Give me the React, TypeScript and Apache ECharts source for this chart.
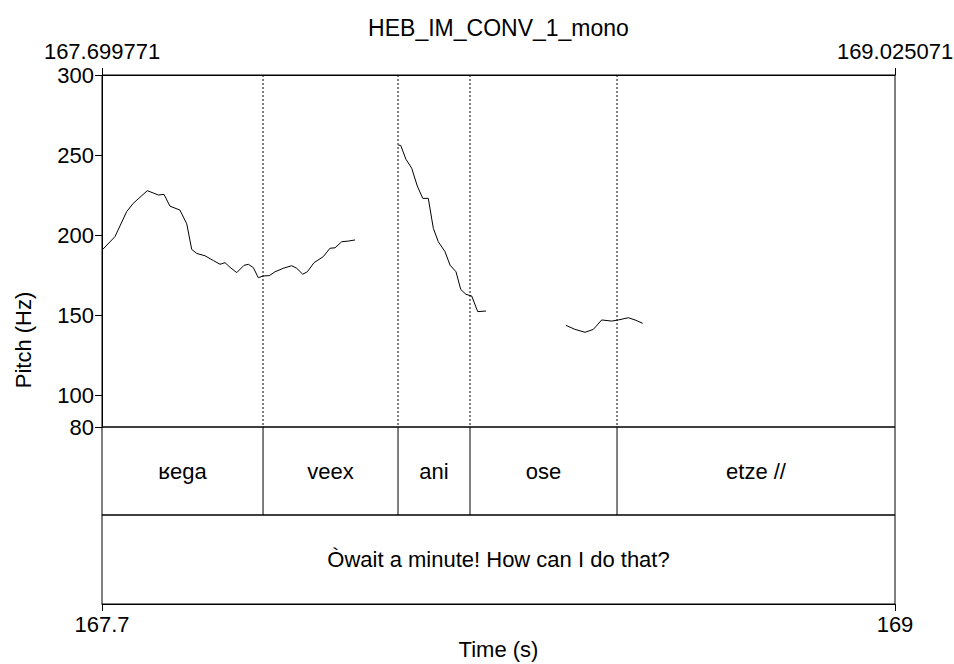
import React, { useEffect, useRef } from "react";
import * as echarts from "echarts";

const FONT = "'Liberation Sans', Arial, Helvetica, sans-serif";
const FS = 22;

const titleText = "HEB_IM_CONV_1_mono";
const xMin = 167.699771;
const xMax = 169.025071;
const topTickValues = [167.699771, 169.025071];
const bottomTickValues = [167.699771, 169.025071];
const bottomTickLabels = ["167.7", "169"];
const pitchTicks = [80, 100, 150, 200, 250, 300];

const seg1Times = [167.701, 167.7215, 167.741, 167.752, 167.7755, 167.794, 167.8034, 167.8134, 167.83, 167.8414, 167.8497, 167.858, 167.872, 167.886, 167.897, 167.9054, 167.9137, 167.925, 167.937, 167.9443, 167.9527, 167.961, 167.9694, 167.9794, 167.9889, 168.0028, 168.0168, 168.0252, 168.0352, 168.0429, 168.0541, 168.0696, 168.0808, 168.0892, 168.1004, 168.1114, 168.1226];
const seg1Pitch = [191, 199, 214.6, 219.8, 227.7, 225, 225.4, 218, 215.6, 207, 191, 188.5, 187, 184, 181.7, 182.7, 179.8, 176.5, 181, 181.7, 179.6, 173.3, 174.4, 174.6, 177, 179.2, 180.8, 179.2, 175.5, 177, 182.7, 186.5, 191.7, 192, 195.8, 196.2, 196.9];
const seg2Times = [168.195, 168.199, 168.2078, 168.2174, 168.2267, 168.2358, 168.2451, 168.2535, 168.2618, 168.273, 168.2814, 168.2914, 168.2993, 168.3081, 168.3176, 168.3277, 168.3415];
const seg2Pitch = [256.2, 256, 247.3, 241.7, 230.6, 222.9, 222.9, 204.2, 195.8, 189.6, 181.2, 177, 166, 162.9, 161.9, 152.1, 152.5];
const seg3Times = [168.4753, 168.4903, 168.507, 168.5209, 168.5349, 168.5516, 168.5626, 168.5794, 168.5906, 168.6034];
const seg3Pitch = [143.5, 141, 139.2, 141, 146.9, 146.2, 146.9, 148.3, 146.9, 144.8];

const tier1Bounds = [167.699771, 167.9689, 168.1945, 168.3148, 168.5605, 169.025071];
const tier1Labels = ["ʁega", "veex", "ani", "ose", "etze //"];
const tier2Bounds = [167.699771, 169.025071];
const tier2Labels = ["Òwait a minute! How can I do that?"];

const GL = 102, GW = 793;

export default function App() {
  const ref = useRef<HTMLDivElement>(null);
  useEffect(() => {
    if (!ref.current) return;
    const chart = echarts.init(ref.current, undefined, { renderer: "svg" });
    const zip = (t: number[], p: number[]) => t.map((v, i) => [v, p[i]]);
    const lineStyle = { color: "#000", width: 1 };
    const tierRender = (bounds: number[], labels: string[]) => (params: any, api: any) => {
      const i = api.value(2);
      const s = api.coord([api.value(0), 0.5]);
      const e = api.coord([api.value(1), 0.5]);
      const cs = params.coordSys;
      const children: any[] = [
        {
          type: "text",
          x: (s[0] + e[0]) / 2,
          y: cs.y + cs.height / 2,
          style: { text: labels[i], align: "center", verticalAlign: "middle", fill: "#000", fontSize: FS, fontFamily: FONT },
        },
      ];
      if (i < labels.length - 1) {
        children.push({
          type: "line",
          shape: { x1: e[0], y1: cs.y, x2: e[0], y2: cs.y + cs.height },
          style: { stroke: "#000", lineWidth: 1 },
        });
      }
      return { type: "group", children };
    };
    const boundaryRender = (params: any, api: any) => {
      const p = api.coord([api.value(0), 80]);
      const cs = params.coordSys;
      return {
        type: "line",
        shape: { x1: p[0], y1: cs.y, x2: p[0], y2: cs.y + cs.height },
        style: { stroke: "#000", lineWidth: 1, lineDash: [2, 2] },
      };
    };
    const tierData = (bounds: number[], labels: string[]) => labels.map((_, i) => [bounds[i], bounds[i + 1], i]);
    const hiddenY = (gi: number) => ({ type: "value", gridIndex: gi, min: 0, max: 1, show: false });
    const gridBase = {
      left: GL, width: GW, show: true, borderColor: "#000", borderWidth: 1, containLabel: false,
      outerBoundsMode: "none",
    };
    chart.setOption({
      animation: false,
      grid: [
        { ...gridBase, top: 75, height: 352 },
        { ...gridBase, top: 427, height: 88 },
        { ...gridBase, top: 515, height: 89 },
      ],
      graphic: [
        { type: "text", x: 498.5, y: 27.5, style: { text: titleText, align: "center", verticalAlign: "middle", fill: "#000", fontSize: 23, fontFamily: FONT } },
        { type: "text", x: 23, y: 340, rotation: Math.PI / 2, style: { text: "Pitch (Hz)", align: "center", verticalAlign: "middle", fill: "#000", fontSize: FS, fontFamily: FONT } },
      ],
      xAxis: [
        {
          type: "value", gridIndex: 0, min: xMin, max: xMax, position: "top",
          axisLine: { show: true, lineStyle: { color: "#000" } },
          axisTick: { show: true, length: 7, customValues: topTickValues, lineStyle: { color: "#000" } },
          axisLabel: { show: true, customValues: topTickValues, margin: 13, color: "#000", fontSize: FS, fontFamily: FONT, formatter: (v: number) => v.toFixed(6) },
          splitLine: { show: false },
        },
        { type: "value", gridIndex: 1, min: xMin, max: xMax, show: false },
        {
          type: "value", gridIndex: 2, min: xMin, max: xMax, position: "bottom",
          axisLine: { show: true, lineStyle: { color: "#000" } },
          axisTick: { show: true, length: 7, customValues: bottomTickValues, lineStyle: { color: "#000" } },
          axisLabel: { show: true, customValues: bottomTickValues, margin: 9, color: "#000", fontSize: FS, fontFamily: FONT, formatter: (v: number, idx: number) => bottomTickLabels[bottomTickValues.indexOf(v)] ?? bottomTickLabels[idx] },
          splitLine: { show: false },
          name: "Time (s)", nameLocation: "middle", nameGap: 34,
          nameTextStyle: { color: "#000", fontSize: FS, fontFamily: FONT },
        },
      ],
      yAxis: [
        {
          type: "value", gridIndex: 0, min: 80, max: 300,
          axisLine: { show: true, lineStyle: { color: "#000" } },
          axisTick: { show: true, length: 7, customValues: pitchTicks, lineStyle: { color: "#000" } },
          axisLabel: { show: true, customValues: pitchTicks, margin: 8, color: "#000", fontSize: FS, fontFamily: FONT },
          splitLine: { show: false },
        },
        hiddenY(1),
        hiddenY(2),
      ],
      series: [
        {
          type: "custom", xAxisIndex: 0, yAxisIndex: 0, silent: true,
          data: tier1Bounds.slice(1, -1).map((b) => [b, 80]),
          renderItem: boundaryRender,
        },
        { type: "line", xAxisIndex: 0, yAxisIndex: 0, data: zip(seg1Times, seg1Pitch), showSymbol: false, symbol: "none", lineStyle, silent: true },
        { type: "line", xAxisIndex: 0, yAxisIndex: 0, data: zip(seg2Times, seg2Pitch), showSymbol: false, symbol: "none", lineStyle, silent: true },
        { type: "line", xAxisIndex: 0, yAxisIndex: 0, data: zip(seg3Times, seg3Pitch), showSymbol: false, symbol: "none", lineStyle, silent: true },
        { type: "custom", xAxisIndex: 1, yAxisIndex: 1, data: tierData(tier1Bounds, tier1Labels), renderItem: tierRender(tier1Bounds, tier1Labels), silent: true },
        { type: "custom", xAxisIndex: 2, yAxisIndex: 2, data: tierData(tier2Bounds, tier2Labels), renderItem: tierRender(tier2Bounds, tier2Labels), silent: true },
      ],
    });
    return () => chart.dispose();
  }, []);
  return <div ref={ref} style={{ position: "fixed", left: 0, top: 0, width: 954, height: 664, background: "#fff" }} />;
}
